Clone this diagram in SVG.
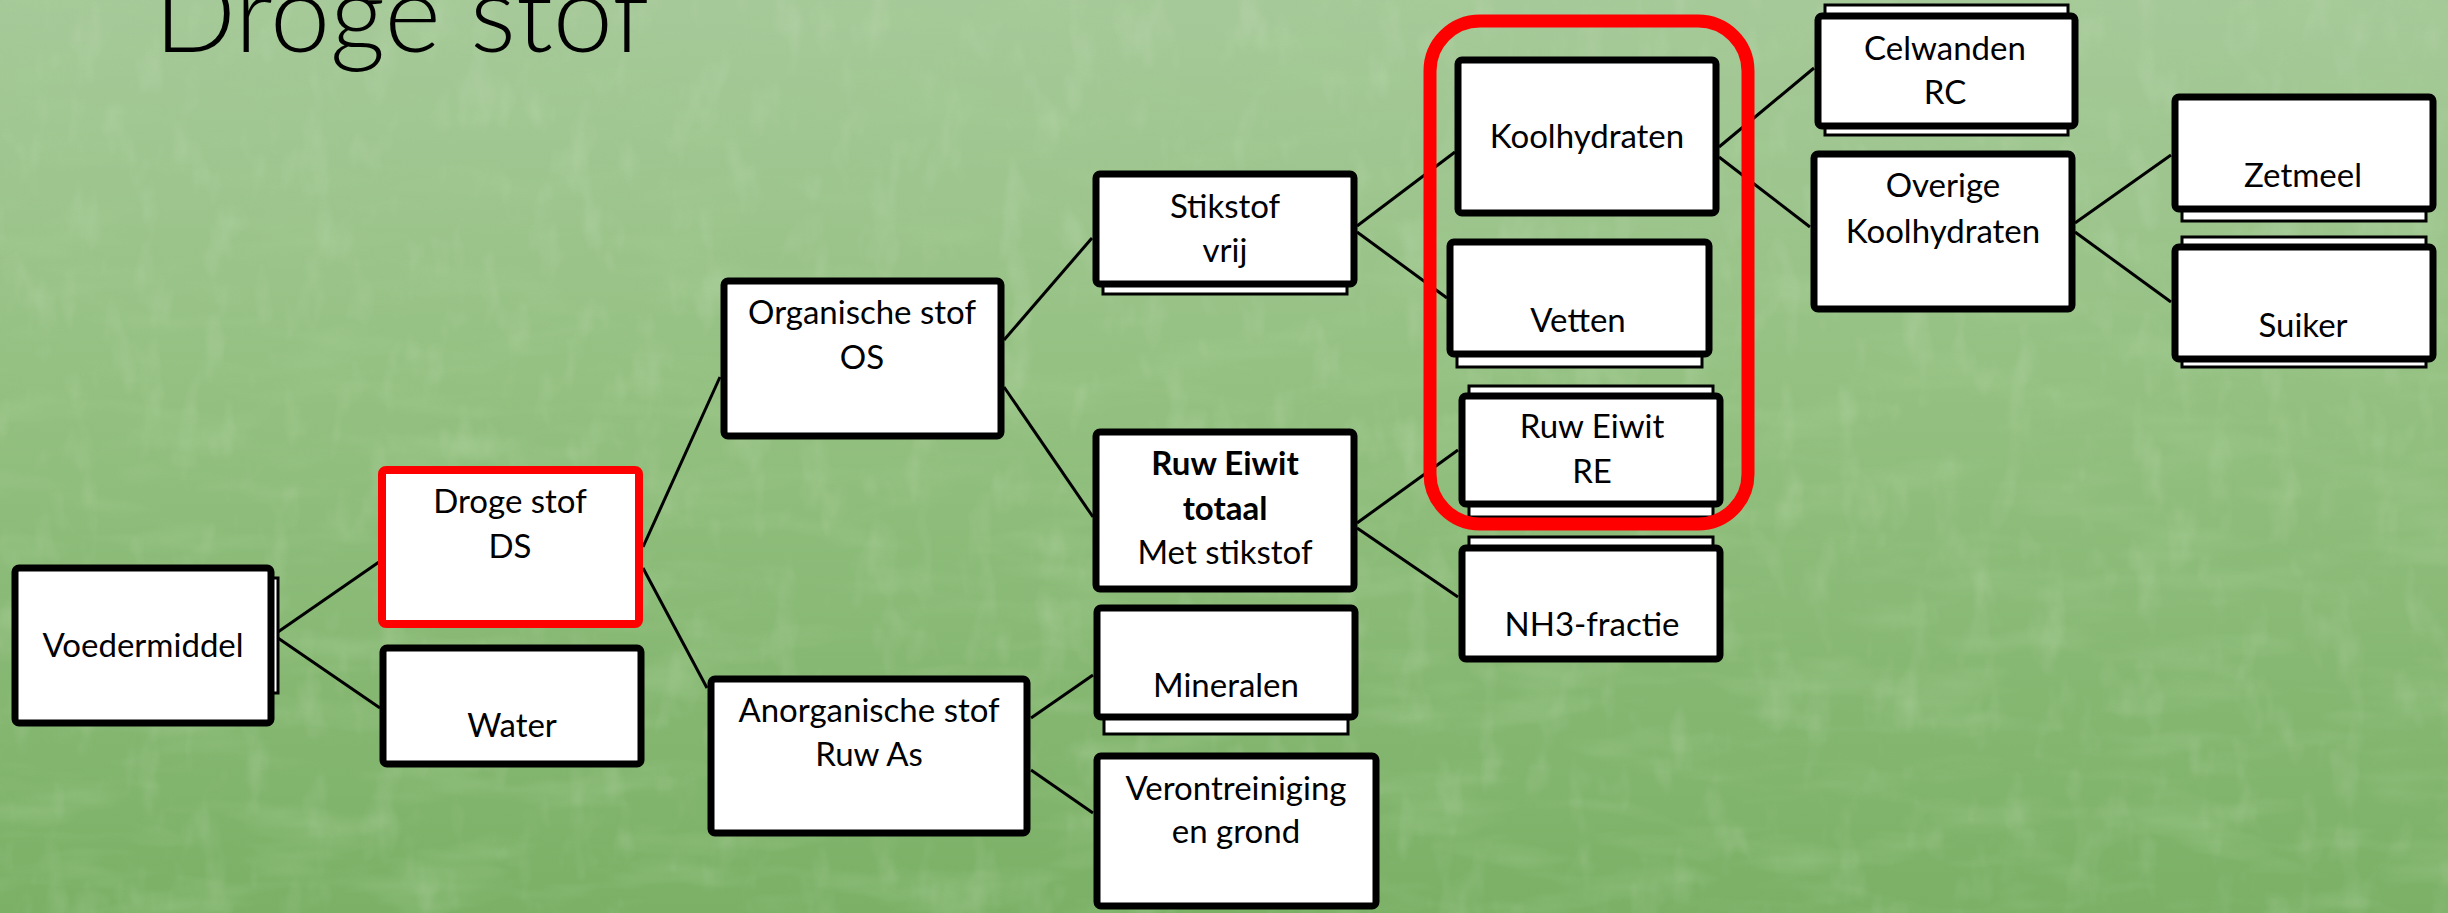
<svg xmlns="http://www.w3.org/2000/svg" width="2448" height="913" viewBox="0 0 2448 913">
<defs>
<linearGradient id="bg" x1="0" y1="0" x2="0" y2="1">
<stop offset="0" stop-color="#a6c999"/>
<stop offset="0.45" stop-color="#93c080"/>
<stop offset="1" stop-color="#7bb066"/>
</linearGradient>
<filter id="grass" x="0" y="0" width="1" height="1" filterUnits="objectBoundingBox">
<feTurbulence type="fractalNoise" baseFrequency="0.008 0.03" numOctaves="3" seed="7"/>
<feColorMatrix type="matrix" values="0 0 0 0 0.38  0 0 0 0 0.62  0 0 0 0 0.30  1.6 0 0 0 -0.75"/>
</filter>
<filter id="grass2" x="0" y="0" width="1" height="1" filterUnits="objectBoundingBox">
<feTurbulence type="fractalNoise" baseFrequency="0.03 0.015" numOctaves="3" seed="19"/>
<feColorMatrix type="matrix" values="0 0 0 0 0.78  0 0 0 0 0.88  0 0 0 0 0.72  1.4 0 0 0 -0.75"/>
</filter>
</defs>
<style>
.box{fill:#fff;stroke:#000;stroke-width:7;}
.red{fill:#fff;stroke:#ff0000;stroke-width:8;}
.ghost{fill:#fff;stroke:#000;stroke-width:3;}
.lbl{font-family:Lato,"Liberation Sans",sans-serif;font-size:33px;fill:#000;text-anchor:middle;}
.b{font-weight:bold;}
.title{font-family:Lato,"Liberation Sans",sans-serif;font-weight:300;font-size:108px;fill:#000;}
#connectors line{stroke:#000;stroke-width:3;}
.group{fill:none;stroke:#ff0000;stroke-width:13;}
</style>
<rect x="0" y="0" width="2448" height="913" fill="url(#bg)"/>
<rect x="0" y="0" width="2448" height="913" filter="url(#grass)" opacity="0.55"/>
<rect x="0" y="0" width="2448" height="913" filter="url(#grass2)" opacity="0.3"/>
<text class="title" x="154" y="52">Droge stof</text>
<g id="connectors">
<line x1="275" y1="634" x2="379" y2="562"/>
<line x1="275" y1="636" x2="380" y2="708"/>
<line x1="643" y1="547" x2="720" y2="377"/>
<line x1="643" y1="568" x2="707" y2="688"/>
<line x1="1004" y1="340" x2="1092" y2="238"/>
<line x1="1004" y1="387" x2="1093" y2="517"/>
<line x1="1031" y1="718" x2="1093" y2="675"/>
<line x1="1031" y1="770" x2="1093" y2="813"/>
<line x1="1357" y1="226" x2="1455" y2="152"/>
<line x1="1357" y1="232" x2="1447" y2="298"/>
<line x1="1357" y1="523" x2="1458" y2="450"/>
<line x1="1357" y1="528" x2="1458" y2="597"/>
<line x1="1719" y1="147" x2="1814" y2="68"/>
<line x1="1719" y1="157" x2="1810" y2="227"/>
<line x1="2075" y1="223" x2="2171" y2="155"/>
<line x1="2075" y1="232" x2="2171" y2="302"/>
</g>
<g id="voedermiddel">
<rect class="ghost" x="20" y="578" width="258" height="115"/>
<rect class="box" x="15" y="568" width="256" height="155" rx="4"/>
<text class="lbl" x="143" y="657">Voedermiddel</text>
</g>
<g id="droge-stof">
<rect class="red" x="382" y="470" width="257" height="154" rx="4"/>
<text class="lbl" x="510" y="513">Droge stof</text>
<text class="lbl" x="510" y="558">DS</text>
</g>
<g id="water">
<rect class="box" x="383" y="648" width="258" height="116" rx="4"/>
<text class="lbl" x="512" y="737">Water</text>
</g>
<g id="organische-stof">
<rect class="box" x="724" y="281" width="277" height="155" rx="4"/>
<text class="lbl" x="862" y="324">Organische stof</text>
<text class="lbl" x="862" y="369">OS</text>
</g>
<g id="anorganische-stof">
<rect class="box" x="711" y="679" width="316" height="154" rx="4"/>
<text class="lbl" x="869" y="722">Anorganische stof</text>
<text class="lbl" x="869" y="766">Ruw As</text>
</g>
<g id="stikstof-vrij">
<rect class="ghost" x="1103" y="180" width="244" height="114"/>
<rect class="box" x="1096" y="174" width="258" height="110" rx="4"/>
<text class="lbl" x="1225" y="218">Stikstof</text>
<text class="lbl" x="1225" y="262">vrij</text>
</g>
<g id="ruw-eiwit-totaal">
<rect class="box" x="1096" y="432" width="258" height="157" rx="4"/>
<text class="lbl b" x="1225" y="475">Ruw Eiwit</text>
<text class="lbl b" x="1225" y="520">totaal</text>
<text class="lbl" x="1225" y="564">Met stikstof</text>
</g>
<g id="mineralen">
<rect class="ghost" x="1104" y="615" width="244" height="119"/>
<rect class="box" x="1097" y="608" width="258" height="109" rx="4"/>
<text class="lbl" x="1226" y="697">Mineralen</text>
</g>
<g id="verontreiniging">
<rect class="box" x="1097" y="756" width="279" height="150" rx="4"/>
<text class="lbl" x="1236" y="800">Verontreiniging</text>
<text class="lbl" x="1236" y="843">en grond</text>
</g>
<g id="koolhydraten">
<rect class="box" x="1458" y="60" width="258" height="153" rx="4"/>
<text class="lbl" x="1587" y="148">Koolhydraten</text>
</g>
<g id="vetten">
<rect class="ghost" x="1457" y="250" width="245" height="117"/>
<rect class="box" x="1450" y="242" width="259" height="112" rx="4"/>
<text class="lbl" x="1578" y="332">Vetten</text>
</g>
<g id="ruw-eiwit-re">
<rect class="ghost" x="1469" y="386" width="244" height="131"/>
<rect class="box" x="1462" y="396" width="258" height="108" rx="4"/>
<text class="lbl" x="1592" y="438">Ruw Eiwit</text>
<text class="lbl" x="1592" y="483">RE</text>
</g>
<g id="nh3-fractie">
<rect class="ghost" x="1469" y="537" width="244" height="100"/>
<rect class="box" x="1462" y="548" width="258" height="111" rx="4"/>
<text class="lbl" x="1592" y="636">NH3-fractie</text>
</g>
<g id="celwanden">
<rect class="ghost" x="1825" y="5" width="243" height="130"/>
<rect class="box" x="1818" y="16" width="257" height="110" rx="4"/>
<text class="lbl" x="1945" y="60">Celwanden</text>
<text class="lbl" x="1945" y="104">RC</text>
</g>
<g id="overige-koolhydraten">
<rect class="box" x="1814" y="154" width="258" height="155" rx="4"/>
<text class="lbl" x="1943" y="197">Overige</text>
<text class="lbl" x="1943" y="243">Koolhydraten</text>
</g>
<g id="zetmeel">
<rect class="ghost" x="2182" y="105" width="244" height="116"/>
<rect class="box" x="2175" y="97" width="258" height="112" rx="4"/>
<text class="lbl" x="2303" y="187">Zetmeel</text>
</g>
<g id="suiker">
<rect class="ghost" x="2182" y="237" width="244" height="130"/>
<rect class="box" x="2175" y="247" width="258" height="112" rx="4"/>
<text class="lbl" x="2303" y="337">Suiker</text>
</g>
<g id="selectie">
<rect class="group" x="1430" y="21" width="318" height="503" rx="50"/>
</g>
</svg>
